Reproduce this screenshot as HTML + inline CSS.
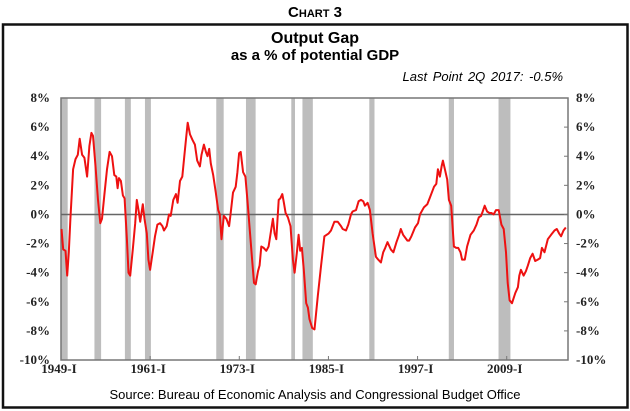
<!DOCTYPE html>
<html><head><meta charset="utf-8"><style>
body{margin:0;background:#fff;}
svg{display:block;}
</style></head><body>
<svg id="chart" width="630" height="411" viewBox="0 0 630 411" xmlns="http://www.w3.org/2000/svg">
<text x="315" y="17" text-anchor="middle" font-family="Liberation Sans, sans-serif" font-weight="bold" font-size="15">C<tspan font-size="11">HART</tspan> 3</text>
<rect x="3" y="24.5" width="624.5" height="383" fill="none" stroke="#111" stroke-width="2.5"/>
<text x="315" y="43" text-anchor="middle" font-family="Liberation Sans, sans-serif" font-weight="bold" font-size="16">Output Gap</text>
<text x="315" y="60" text-anchor="middle" font-family="Liberation Sans, sans-serif" font-weight="bold" font-size="15">as a % of potential GDP</text>
<text x="563" y="81" text-anchor="end" font-family="Liberation Sans, sans-serif" font-style="italic" font-size="13" word-spacing="2">Last Point 2Q 2017: -0.5%</text>
<g id="rec"></g>
<g id="axes"></g>
<path id="line" fill="none" stroke="#ee1111" stroke-width="2" stroke-linejoin="round"/>
<text x="315" y="399" text-anchor="middle" font-family="Liberation Sans, sans-serif" font-size="13">Source: Bureau of Economic Analysis and Congressional Budget Office</text>
</svg>
<script>
const years=[1949.07,1949.29,1949.60,1949.83,1950.05,1950.27,1950.63,1950.95,1951.26,1951.52,1951.84,1952.15,1952.51,1952.82,1953.09,1953.31,1953.62,1953.98,1954.29,1954.52,1954.83,1955.19,1955.54,1955.86,1956.17,1956.44,1956.62,1956.80,1957.06,1957.33,1957.56,1957.87,1958.09,1958.31,1958.67,1958.99,1959.21,1959.43,1959.66,1960.01,1960.24,1960.55,1960.77,1961.00,1961.35,1961.66,1961.98,1962.34,1962.65,1962.87,1963.23,1963.54,1963.77,1964.12,1964.48,1964.70,1965.02,1965.33,1965.60,1965.82,1966.05,1966.36,1966.72,1967.03,1967.34,1967.70,1967.92,1968.24,1968.50,1968.72,1968.95,1969.17,1969.49,1969.84,1970.16,1970.38,1970.60,1970.92,1971.27,1971.63,1971.85,1972.16,1972.52,1972.74,1972.97,1973.19,1973.51,1973.82,1974.09,1974.40,1974.72,1974.98,1975.21,1975.52,1975.74,1975.97,1976.28,1976.64,1976.95,1977.31,1977.53,1977.76,1977.98,1978.30,1978.52,1978.79,1979.01,1979.24,1979.55,1979.90,1980.22,1980.44,1980.75,1980.98,1981.20,1981.43,1981.69,1982.01,1982.23,1982.45,1982.81,1983.12,1983.57,1984.01,1984.46,1985.04,1985.35,1985.80,1986.25,1986.69,1986.92,1987.37,1987.68,1988.04,1988.26,1988.71,1989.06,1989.38,1989.69,1989.91,1990.27,1990.58,1990.94,1991.39,1991.70,1992.06,1992.37,1992.64,1992.95,1993.40,1993.75,1994.16,1994.51,1994.74,1995.05,1995.63,1995.86,1996.17,1996.66,1997.06,1997.33,1997.87,1998.31,1998.62,1999.21,1999.52,1999.74,2000.01,2000.23,2000.41,2000.68,2000.99,2001.22,2001.53,2001.89,2002.20,2002.47,2002.78,2003.00,2003.36,2003.67,2004.12,2004.57,2004.93,2005.24,2005.55,2005.77,2006.04,2006.36,2006.67,2006.94,2007.25,2007.56,2007.92,2008.28,2008.59,2008.90,2009.13,2009.39,2009.71,2010.15,2010.51,2010.69,2010.91,2011.27,2011.58,2011.85,2012.16,2012.48,2012.83,2013.19,2013.50,2013.73,2014.08,2014.53,2014.98,2015.43,2015.74,2016.05,2016.32,2016.64,2016.95];
const gap=[-1.0,-2.4,-2.5,-4.2,-2.6,-0.3,3.1,3.8,4.1,5.2,4.1,3.9,2.6,4.7,5.6,5.4,3.5,1.0,-0.6,-0.3,1.3,3.1,4.3,4.0,2.7,2.6,1.8,2.5,2.3,1.3,1.1,-1.7,-4.0,-4.2,-2.4,-0.6,1.0,0.3,-0.5,0.7,-0.3,-1.3,-3.1,-3.8,-2.6,-1.5,-0.7,-0.6,-0.8,-1.1,-0.8,0.0,-0.1,1.0,1.4,0.8,2.3,2.6,4.0,5.1,6.3,5.5,5.1,4.8,3.7,3.3,4.1,4.8,4.3,4.0,4.5,3.5,2.7,1.5,0.3,0.0,-1.7,-0.1,-0.3,-0.8,0.1,1.5,1.9,2.9,4.2,4.3,2.9,2.6,1.0,-1.0,-3.1,-4.7,-4.8,-3.9,-3.5,-2.2,-2.3,-2.5,-2.2,-1.0,-0.3,-1.3,-1.7,1.0,1.1,1.4,0.8,0.1,-0.2,-0.8,-3.1,-4.0,-2.6,-1.4,-2.5,-2.3,-3.8,-6.1,-6.4,-7.2,-7.8,-7.9,-5.6,-3.5,-1.5,-1.3,-1.1,-0.5,-0.5,-0.8,-1.0,-1.1,-0.7,0.0,0.2,0.3,0.9,1.0,0.9,0.6,0.8,0.3,-1.3,-2.9,-3.1,-3.3,-2.6,-2.3,-1.9,-2.4,-2.6,-1.9,-1.4,-1.0,-1.4,-1.8,-1.8,-1.5,-0.9,-0.6,0.0,0.5,0.7,1.1,1.9,2.1,3.1,2.6,3.3,3.7,3.1,2.4,1.0,0.6,-2.2,-2.3,-2.3,-2.6,-3.1,-3.1,-2.2,-1.4,-1.1,-0.7,-0.2,-0.1,0.2,0.6,0.2,0.1,0.1,0.0,0.3,0.3,-0.7,-1.0,-2.6,-4.7,-5.9,-6.1,-5.4,-5.0,-4.2,-3.8,-4.2,-3.9,-3.5,-3.0,-2.7,-3.2,-3.1,-3.0,-2.3,-2.6,-1.7,-1.4,-1.1,-1.0,-1.3,-1.5,-1.1,-0.9,-0.9];
const recStart=[1948.9,1953.5,1957.6,1960.3,1969.9,1973.9,1980.0,1981.5,1990.5,2001.2,2007.9];
const recEnd=[1949.9,1954.4,1958.4,1961.1,1970.9,1975.2,1980.5,1982.9,1991.2,2001.9,2009.5];
const yTicks=[8,6,4,2,0,-2,-4,-6,-8,-10];
const xTickYears=[1949,1961,1973,1985,1997,2009];
const xTickLabels=["1949-I","1961-I","1973-I","1985-I","1997-I","2009-I"];

const L=61,R=568,T=98,B=360,X0=1949,X1=2017.25,Y0=-10,Y1=8;
const xs=v=>L+(Math.max(v,X0)-X0)/(X1-X0)*(R-L);
const ys=v=>B-(v-Y0)/(Y1-Y0)*(B-T);
const NS="http://www.w3.org/2000/svg";
function mk(tag,parent,attrs){const e=document.createElementNS(NS,tag);for(const k in attrs)e.setAttribute(k,attrs[k]);parent.appendChild(e);return e;}
const rec=document.getElementById('rec');
recStart.forEach((s,i)=>{
  const e=mk('rect',rec,{x:xs(s),y:T,width:Math.max(3,xs(recEnd[i])-xs(s)),height:B-T,fill:'#bdbdbd'});
  
  
});
const ax=document.getElementById('axes');
const frame=mk('rect',ax,{x:L,y:T,width:R-L,height:B-T,fill:'none',stroke:'#777','stroke-width':1.5});


const zl=mk('line',ax,{x1:L,x2:R,y1:ys(0),y2:ys(0),stroke:'#666','stroke-width':1.5});


yTicks.forEach(v=>{
  const y=ys(v);
  const a=mk('text',ax,{x:50,y:y+4,'text-anchor':'end','font-family':'Liberation Serif, serif','font-weight':'bold','font-size':13,fill:'#222'});
  a.textContent=v+'%';
  
  
  const b=mk('text',ax,{x:576,y:y+4,'font-family':'Liberation Serif, serif','font-weight':'bold','font-size':13,fill:'#222'});
  b.textContent=v+'%';
  
  
  const t=mk('line',ax,{x1:R-4,x2:R,y1:y,y2:y,stroke:'#777'});
  
  
});
xTickYears.forEach((yr,i)=>{
  const x=xs(yr);
  const t=mk('line',ax,{x1:x,x2:x,y1:B-4,y2:B,stroke:'#777'});
  
  
  const l=mk('text',ax,{x:x-2,y:373,'text-anchor':'middle','font-family':'Liberation Serif, serif','font-weight':'bold','font-size':13,fill:'#222'});
  l.textContent=xTickLabels[i];
  
  
});
document.getElementById('line').setAttribute('d',years.map((y,i)=>(i?'L':'M')+xs(y).toFixed(1)+','+ys(gap[i]).toFixed(1)).join(''));
</script>
</body></html>
